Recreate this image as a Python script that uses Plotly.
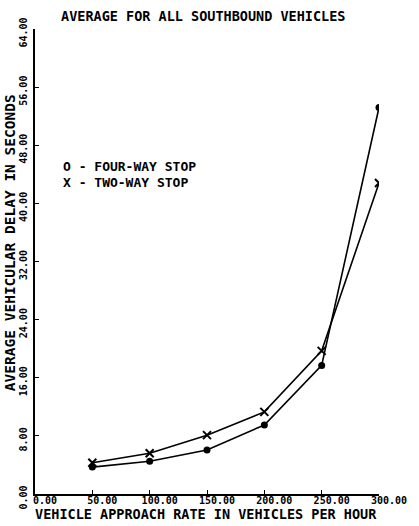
import plotly.graph_objects as go

rate = [50, 100, 150, 200, 250, 300]
four_way = [3.7, 4.5, 6.05, 9.5, 17.7, 53.2]
two_way = [4.3, 5.6, 8.1, 11.3, 19.7, 42.8]

title_text = "AVERAGE FOR ALL SOUTHBOUND VEHICLES"
x_title = "VEHICLE APPROACH RATE IN VEHICLES PER HOUR"
y_title = "AVERAGE VEHICULAR DELAY IN SECONDS"
legend_lines = ["O - FOUR-WAY STOP", "X - TWO-WAY STOP"]

FONT = "DejaVu Sans Mono"

fig = go.Figure()
fig.add_trace(go.Scatter(x=rate, y=four_way, mode="lines+markers",
                         line=dict(color="black", width=1.6),
                         marker=dict(symbol="circle", size=7, color="black"),
                         showlegend=False))
fig.add_trace(go.Scatter(x=rate, y=two_way, mode="lines+markers",
                         line=dict(color="black", width=1.6),
                         marker=dict(symbol="x-thin-open", size=8, color="black",
                                     line=dict(width=2, color="black")),
                         showlegend=False))

fig.update_layout(
    width=419, height=526,
    margin=dict(l=35, r=33, t=29, b=32),
    paper_bgcolor="white", plot_bgcolor="white",
    font=dict(family=FONT, color="black"),
)
fig.update_xaxes(range=[0, 300], dtick=50, tick0=0, tickformat=".2f",
                 showgrid=False, zeroline=False, showline=True, linecolor="black",
                 linewidth=1.5, ticks="inside", ticklen=4, tickcolor="black",
                 tickfont=dict(family=FONT, size=10, weight="bold"),
                 ticklabelshift=10, ticklabelstandoff=-4)
fig.update_yaxes(range=[0, 64], dtick=8, tick0=0, tickformat=".2f",
                 showgrid=False, zeroline=False, showline=True, linecolor="black",
                 linewidth=1.5, ticks="inside", ticklen=4, tickcolor="black",
                 tickangle=-90, tickfont=dict(family=FONT, size=10, weight="bold"),
                 ticklabelstandoff=2, ticklabelshift=5)

fig.add_annotation(text=title_text, xref="paper", yref="paper", x=0.0712, y=1.028,
                   xanchor="left", yanchor="middle", showarrow=False,
                   font=dict(family=FONT, size=13.5, weight="bold"))
fig.add_annotation(text=x_title, xref="paper", yref="paper", x=0.496, y=-0.042,
                   xanchor="center", yanchor="middle", showarrow=False,
                   font=dict(family=FONT, size=13.5, weight="bold"))
fig.add_annotation(text=y_title, xref="paper", yref="paper", x=-0.072, y=0.54,
                   xanchor="center", yanchor="middle", showarrow=False, textangle=-90,
                   font=dict(family=FONT, size=14.5, weight="bold"))
for i, line in enumerate(legend_lines):
    fig.add_annotation(text=line, xref="paper", yref="paper", x=0.077,
                       y=[0.705, 0.669][i], xanchor="left", yanchor="middle",
                       showarrow=False, font=dict(family=FONT, size=13, weight="bold"))

fig.write_html("out.html")
